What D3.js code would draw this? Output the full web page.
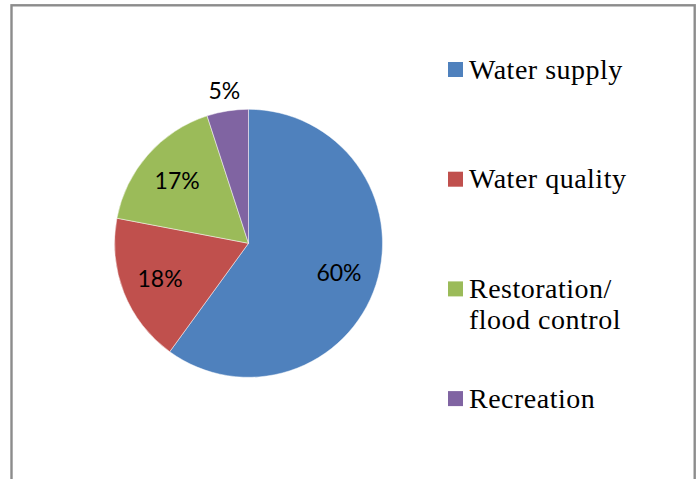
<!DOCTYPE html>
<html>
<head>
<meta charset="utf-8">
<script src="https://cdn.jsdelivr.net/npm/d3@7"></script>
<style>
  html, body { margin: 0; padding: 0; background: #ffffff; }
  svg { display: block; }
</style>
</head>
<body>
<div id="chart"></div>
<script>
// Share of use by category (percent)
const categories = ["Water supply", "Water quality", "Restoration/ flood control", "Recreation"];
const legendLines = [["Water supply"], ["Water quality"], ["Restoration/", "flood control"], ["Recreation"]];
const values = [60, 18, 17, 5];
const colors = ["#4F81BD", "#C0504D", "#9BBB59", "#8064A2"];

const width = 699, height = 479;
const svg = d3.select("#chart").append("svg")
  .attr("width", width).attr("height", height);

// chart frame (open at the bottom edge of the view)
svg.append("rect")
  .attr("x", 11.5).attr("y", 5.3)
  .attr("width", 683.2).attr("height", 500)
  .attr("fill", "#ffffff")
  .attr("stroke", "#8c8c8c")
  .attr("stroke-width", 2.4);

const cx = 248.5, cy = 243.3, R = 134;
const pie = d3.pie().sort(null).value(d => d)(values);
const arc = d3.arc().innerRadius(0).outerRadius(R);
const labelArc = d3.arc().innerRadius(R * 0.71).outerRadius(R * 0.71);
const outsideArc = d3.arc().innerRadius(R * 1.155).outerRadius(R * 1.155);

const g = svg.append("g").attr("transform", `translate(${cx},${cy})`);
g.selectAll("path.slice").data(pie).join("path")
  .attr("class", "slice")
  .attr("d", arc)
  .attr("fill", (d, i) => colors[i])
  .attr("stroke", "#ffffff")
  .attr("stroke-opacity", 0.6)
  .attr("stroke-width", 0.8);

const total = d3.sum(values);
g.selectAll("text.pct").data(pie).join("text")
  .attr("class", "pct")
  .attr("transform", d => {
    const small = (d.endAngle - d.startAngle) < 0.5;
    const p = (small ? outsideArc : labelArc).centroid(d);
    return `translate(${p[0]},${p[1]})`;
  })
  .attr("text-anchor", "middle")
  .attr("dy", "0.36em")
  .attr("font-family", "Lato, 'Open Sans', sans-serif")
  .attr("font-size", 23)
  .attr("fill", "#000000")
  .text(d => Math.round(d.data / total * 100) + "%");

// legend
const legendX = 448, legendY0 = 62, legendStep = 109.7;
const lg = svg.append("g");
const items = lg.selectAll("g.item").data(categories).join("g")
  .attr("class", "item")
  .attr("transform", (d, i) => `translate(${legendX},${legendY0 + i * legendStep})`);
items.append("rect")
  .attr("width", 15).attr("height", 15)
  .attr("fill", (d, i) => colors[i]);
items.append("text")
  .attr("x", 21).attr("y", 16.6)
  .attr("font-family", "'Liberation Serif', 'DejaVu Serif', serif")
  .attr("font-size", 28)
  .attr("letter-spacing", 0.5)
  .attr("fill", "#000000")
  .selectAll("tspan").data((d, i) => legendLines[i]).join("tspan")
  .attr("x", 21)
  .attr("dy", (d, j) => j === 0 ? 0 : 30.6)
  .text(d => d);
</script>
</body>
</html>
